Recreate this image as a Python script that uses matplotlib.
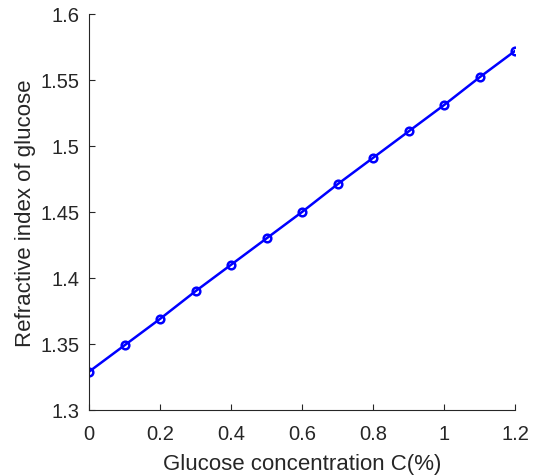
import matplotlib
matplotlib.use("Agg")
import matplotlib.pyplot as plt

concentration = [0.0, 0.1, 0.2, 0.3, 0.4, 0.5, 0.6, 0.7, 0.8, 0.9, 1.0, 1.1, 1.2]
refractive_index = [1.329, 1.349, 1.369, 1.390, 1.410, 1.430, 1.450, 1.471, 1.491, 1.511, 1.531, 1.552, 1.572]
xticks = [0, 0.2, 0.4, 0.6, 0.8, 1.0, 1.2]
xtick_labels = ["0", "0.2", "0.4", "0.6", "0.8", "1", "1.2"]
yticks = [1.3, 1.35, 1.4, 1.45, 1.5, 1.55, 1.6]
ytick_labels = ["1.3", "1.35", "1.4", "1.45", "1.5", "1.55", "1.6"]

plt.rcParams['font.family'] = ['Liberation Sans', 'DejaVu Sans']
txt = '#262626'

fig = plt.figure(figsize=(5.38, 4.77), dpi=100)
ax = fig.add_axes([89/538, 66/477, (515-89)/538, (411-15)/477])
ax.plot(concentration, refractive_index, color='blue', lw=1.8, marker='o',
        ms=5.5, mfc='none', mec='blue', mew=1.8)
ax.set_xlim(0, 1.2)
ax.set_ylim(1.3, 1.6)
ax.set_xticks(xticks)
ax.set_xticklabels(xtick_labels)
ax.set_yticks(yticks)
ax.set_yticklabels(ytick_labels)
for s in ['top', 'right']:
    ax.spines[s].set_visible(False)
for s in ['left', 'bottom']:
    ax.spines[s].set_color(txt)
    ax.spines[s].set_linewidth(0.8)
ax.tick_params(direction='in', length=4, width=0.8, colors=txt, labelsize=14.5, labelcolor=txt)
ax.tick_params(axis='x', pad=10)
ax.tick_params(axis='y', pad=7)
ax.set_xlabel('Glucose concentration C(%)', fontsize=16, color=txt, labelpad=7)
ax.set_ylabel('Refractive index of glucose', fontsize=16, color=txt, labelpad=3)
fig.savefig('out.png', dpi=100)
